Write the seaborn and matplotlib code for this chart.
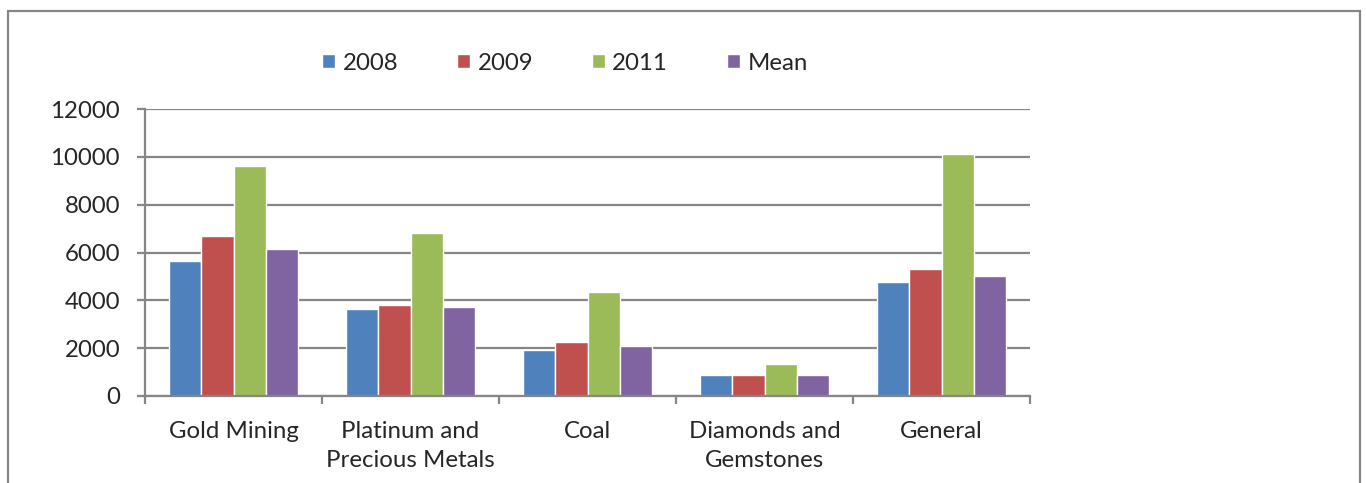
import pandas as pd
import matplotlib.pyplot as plt
import seaborn as sns
from matplotlib.patches import Rectangle
from matplotlib.ticker import FixedLocator

# ---------- DATA ----------
categories = ['Gold Mining', 'Platinum and\nPrecious Metals', 'Coal',
              'Diamonds and\nGemstones', 'General']
series = ['2008', '2009', '2011', 'Mean']
v2008 = [5650, 3650, 1930, 860, 4780]
v2009 = [6670, 3810, 2270, 860, 5290]
v2011 = [9610, 6820, 4360, 1330, 10110]
vmean = [6150, 3720, 2070, 860, 5030]
yticks = [0, 2000, 4000, 6000, 8000, 10000, 12000]

colors = ['#4F81BD', '#C0504D', '#9BBB59', '#8064A2']

rows = []
for name, vals in zip(series, [v2008, v2009, v2011, vmean]):
    for cat, v in zip(categories, vals):
        rows.append({'Category': cat, 'Series': name, 'Value': v})
df = pd.DataFrame(rows)

# ---------- STYLE ----------
sns.set_style('white')
plt.rcParams['font.family'] = ['Lato', 'DejaVu Sans']
fs = 17.3

W, H = 1366, 483
fig = plt.figure(figsize=(W / 100, H / 100), dpi=100)
ax = fig.add_axes([145 / W, 1 - 396 / H, (1030 - 145) / W, (396 - 109) / H])

sns.barplot(data=df, x='Category', y='Value', hue='Series', order=categories,
            hue_order=series, palette=colors, width=0.725, gap=0,
            saturation=1, ax=ax, legend=True)

grey = '#868686'
ax.set_xlim(-0.5, 4.5)
ax.set_ylim(0, 12000)
ax.set_yticks(yticks)
ax.set_yticklabels([str(t) for t in yticks])
ax.set_xlabel('')
ax.set_ylabel('')
ax.set_axisbelow(True)
ax.yaxis.grid(True, color=grey, linewidth=1.6)
ax.xaxis.grid(False)

for s in ['top', 'right']:
    ax.spines[s].set_visible(False)
for s in ['left', 'bottom']:
    ax.spines[s].set_color(grey)
    ax.spines[s].set_linewidth(1.6)

ax.tick_params(axis='y', direction='out', length=6, width=1.6, color=grey,
               pad=12, labelsize=fs, left=True)
ax.tick_params(axis='x', which='major', length=0, pad=18, labelsize=fs)
ax.xaxis.set_minor_locator(FixedLocator([-0.5, 0.5, 1.5, 2.5, 3.5, 4.5]))
ax.tick_params(axis='x', which='minor', direction='out', length=6,
               width=1.6, color=grey, bottom=True)
for lbl in ax.get_xticklabels():
    lbl.set_linespacing(1.45)

# legend on top
handles, labels = ax.get_legend_handles_labels()
ax.get_legend().remove()
fig.legend(handles, labels, loc='center', ncol=4,
           bbox_to_anchor=(565 / W, 1 - 63 / H), frameon=False,
           fontsize=fs, handlelength=0.55, handleheight=0.55,
           handletextpad=0.3, columnspacing=2.45, borderpad=0)

# outer chart border
fig.patches.append(Rectangle((8 / W, -0.1), (1360 - 8) / W, 1.1 - 11 / H,
                             transform=fig.transFigure, fill=False,
                             edgecolor=grey, linewidth=1.6))

fig.savefig('out.png', dpi=100)
